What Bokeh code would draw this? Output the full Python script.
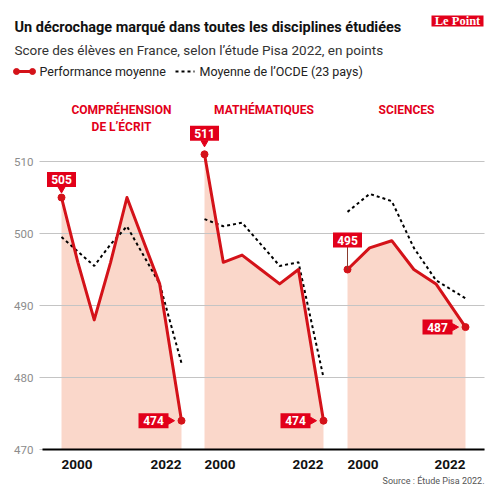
import math
from bokeh.plotting import figure
from bokeh.models import Range1d
from bokeh.embed import file_html
from bokeh.resources import INLINE
from bokeh.core.properties import value

# ---------------- data ----------------
years_read = [2000, 2003, 2006, 2009, 2012, 2015, 2018, 2022]
france_read = [505, 496, 488, 496, 505, 499, 493, 474]
oecd_read = [499.5, 497.5, 495.5, 498.5, 501, 497, 493, 482]

years_math = [2003, 2006, 2009, 2012, 2015, 2018, 2022]
france_math = [511, 496, 497, 495, 493, 495, 474]
oecd_math = [502, 501, 501.5, 498.5, 495.5, 496, 480]

years_sci = [2006, 2009, 2012, 2015, 2018, 2022]
france_sci = [495, 498, 499, 495, 493, 487]
oecd_sci = [503, 505.5, 504.5, 498, 493.5, 491]

panel_titles = [["COMPRÉHENSION", "DE L’ÉCRIT"], ["MATHÉMATIQUES"], ["SCIENCES"]]
y_ticks = [470, 480, 490, 500, 510]
x_tick_labels = ["2000", "2022"]

title_text = "Un décrochage marqué dans toutes les disciplines étudiées"
subtitle_text = "Score des élèves en France, selon l’étude Pisa 2022, en points"
legend_fr = "Performance moyenne"
legend_oecd = "Moyenne de l’OCDE (23 pays)"
source_text = "Source : Étude Pisa 2022."
logo_text = "Le Point"

# ---------------- style / layout ----------------
RED_LINE = "#D41219"
RED_BOX = "#E2001A"
PEACH = "#FAD7CA"
GRID = "#c4c4c4"
FONT = "Roboto"

ORIGIN = 1            # page pixel of the canvas' top-left corner
W = H = 490
FRAME_L, FRAME_R = 40, 485          # page columns of the chart area
PX_HI, PX_LO = 162, 450             # page rows of top and bottom tick
panel_px = [(62, 182), (205, 324), (348, 466)]
above_px = [18, 21, 29.5]
stem = [False, False, True]

ppv = (PX_LO - PX_HI) / (y_ticks[-1] - y_ticks[0])


def vy(py):
    return y_ticks[-1] - (py - PX_HI) / ppv


p = figure(width=W, height=H,
           x_range=Range1d(ORIGIN, ORIGIN + W), y_range=Range1d(ORIGIN + H, ORIGIN),
           output_backend="svg", toolbar_location=None, min_border=0,
           x_axis_location=None, y_axis_location=None)
p.grid.visible = False
p.outline_line_color = None
p.extra_y_ranges = {"val": Range1d(vy(ORIGIN + H), vy(ORIGIN))}

panels = [
    ("read", years_read, france_read, oecd_read),
    ("math", years_math, france_math, oecd_math),
    ("sci", years_sci, france_sci, oecd_sci),
]
ranges = {}
ppys = {}
for (key, yrs, fr, oe), (x0, x1) in zip(panels, panel_px):
    ppy = (x1 - x0) / (yrs[-1] - yrs[0])
    ppys[key] = ppy
    ranges[key] = Range1d(yrs[0] - (x0 - ORIGIN) / ppy, yrs[-1] + (ORIGIN + W - x1) / ppy)
p.extra_x_ranges = ranges

# ---------------- header ----------------
p.text(x=[15], y=[27.5], text=[title_text], text_font=value(FONT), text_font_style="bold",
       text_font_size="14.5px", text_color="#111111", text_baseline="alphabetic")
p.text(x=[15], y=[50], text=[subtitle_text], text_font=value(FONT),
       text_font_size="13.5px", text_color="#333333", text_baseline="alphabetic")
p.quad(left=[432], right=[484], top=[16], bottom=[27], fill_color=RED_BOX, line_color=None)
p.text(x=[458], y=[21.5], text=[logo_text], text_font=value("Liberation Serif"), text_font_style="bold",
       text_font_size="12.5px", text_color="white", text_align="center", text_baseline="middle")
p.line([17, 33], [72, 72], line_color=RED_LINE, line_width=3)
p.scatter([17, 33], [72, 72], size=6, color=RED_LINE)
p.text(x=[40], y=[72], text=[legend_fr], text_font=value(FONT), text_font_size="12.5px",
       text_color="#222222", text_baseline="middle")
p.line([176, 195], [72, 72], line_color="black", line_width=2, line_dash="3 3")
p.text(x=[200], y=[72], text=[legend_oecd], text_font=value(FONT), text_font_size="12.5px",
       text_color="#222222", text_baseline="middle")

# ---------------- value axis: grid, tick labels, baseline ----------------
p.segment(x0=[FRAME_L] * len(y_ticks), x1=[FRAME_R] * len(y_ticks), y0=y_ticks, y1=y_ticks,
          y_range_name="val", line_color=GRID, line_width=1.2, level="underlay")
p.text(x=[FRAME_L - 6] * len(y_ticks), y=y_ticks, text=[str(t) for t in y_ticks], y_range_name="val",
       text_font=value(FONT), text_font_size="11.5px", text_color="#8c8c8c",
       text_align="right", text_baseline="middle")

for i, (key, yrs, fr, oe) in enumerate(panels):
    ppy = ppys[key]
    kw = dict(x_range_name=key, y_range_name="val")
    p.varea(x=yrs, y1=[y_ticks[0]] * len(yrs), y2=fr, fill_color=PEACH, level="image", **kw)
    p.line(yrs, oe, line_color="black", line_width=2, line_dash="3 3", **kw)
    p.line(yrs, fr, line_color=RED_LINE, line_width=3, line_join="round", **kw)
    p.scatter([yrs[0], yrs[-1]], [fr[0], fr[-1]], size=7, color=RED_LINE, **kw)

    # panel title
    xc = (yrs[0] + yrs[-1]) / 2
    for j, t in enumerate(panel_titles[i]):
        p.text(x=[xc], y=[vy(110 + 17 * j)], text=[t], text_font=value(FONT),
               text_font_style="bold", text_font_size="12px", text_color=RED_BOX,
               text_align="center", text_baseline="middle", **kw)

    # x tick labels (left / right aligned to the panel)
    p.text(x=[yrs[0]], y=[vy(465)], text=[x_tick_labels[0]], text_font=value(FONT),
           text_font_style="bold", text_font_size="13.5px", text_color="#111111",
           text_align="left", text_baseline="middle", **kw)
    p.text(x=[yrs[-1]], y=[vy(465)], text=[x_tick_labels[1]], text_font=value(FONT),
           text_font_style="bold", text_font_size="13.5px", text_color="#111111",
           text_align="right", text_baseline="middle", **kw)

    # first value label (above the point)
    dy = above_px[i]
    ly = fr[0] + dy / ppv
    if stem[i]:
        p.segment(x0=[yrs[0]], y0=[fr[0]], x1=[yrs[0]], y1=[fr[0] + (dy - 7) / ppv],
                  line_color="#8a3b2e", line_width=1, **kw)
    else:
        p.scatter([yrs[0]], [fr[0] + (dy - 9.5) / ppv], marker="inverted_triangle",
                  size=7, color=RED_BOX, **kw)
    p.rect(x=[yrs[0]], y=[ly], width=29, height=15, width_units="screen", height_units="screen",
           fill_color=RED_BOX, line_color=None, **kw)
    p.text(x=[yrs[0]], y=[ly], text=[str(round(fr[0]))], text_font=value(FONT),
           text_font_style="bold", text_font_size="12px", text_color="white",
           text_align="center", text_baseline="middle", **kw)

    # last value label (left of the point)
    lx = yrs[-1] - 28 / ppy
    p.scatter([yrs[-1] - 11 / ppy], [fr[-1]], marker="triangle", angle=-math.pi / 2,
              size=7, color=RED_BOX, **kw)
    p.rect(x=[lx], y=[fr[-1]], width=30, height=15, width_units="screen", height_units="screen",
           fill_color=RED_BOX, line_color=None, **kw)
    p.text(x=[lx], y=[fr[-1]], text=[str(round(fr[-1]))], text_font=value(FONT),
           text_font_style="bold", text_font_size="12px", text_color="white",
           text_align="center", text_baseline="middle", **kw)

# baseline
p.segment(x0=[43], x1=[FRAME_R], y0=[y_ticks[0]], y1=[y_ticks[0]], y_range_name="val",
          line_color="black", line_width=2)

# source (page coordinates)
p.text(x=[FRAME_R], y=[481], text=[source_text], text_font=value(FONT), text_font_size="9px",
       text_color="#555555", text_align="right", text_baseline="middle")

open("out.html", "w").write(file_html(p, INLINE))
